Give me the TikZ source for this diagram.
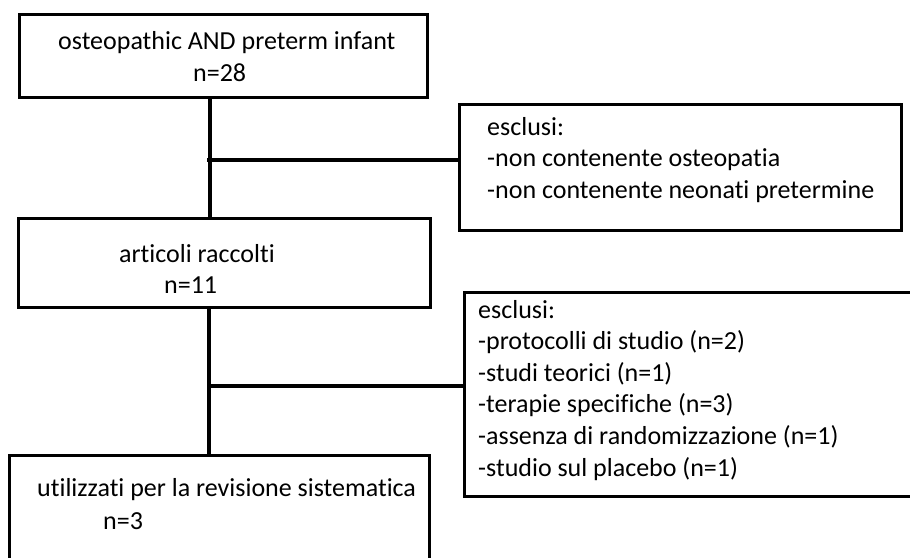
\documentclass[tikz,border=0pt]{standalone}
\usepackage{fontspec}
\setmainfont[Ligatures={NoCommon}]{Carlito}
\usetikzlibrary{positioning}
\tikzset{
  flowbox/.style={draw,line width=3.2pt,inner sep=0pt},
  flowtxt/.style={anchor=base west,inner sep=0pt,font=\fontsize{26}{31.6}\selectfont},
  flowlink/.style={line width=3.2pt},
}
\begin{document}
\begin{tikzpicture}[x=1pt,y=-1pt]
  \useasboundingbox (0,0) rectangle (910,557);
  \clip (0,0) rectangle (910,557);
  % ---- boxes ----
  \node[flowbox,minimum width=408,minimum height=83] (search) at (223.5,56) {};
  \node[flowbox,minimum width=442,minimum height=126] (excla) at (680.5,167.5) {};
  \node[flowbox,minimum width=412,minimum height=89] (kept) at (224.5,263) {};
  \node[flowbox,minimum width=495,minimum height=204] (exclb) at (712,394.5) {};
  \node[flowbox,minimum width=420,minimum height=160] (final) at (219.5,535.5) {};
  % ---- texts ----
  \node[flowtxt] (search1) at (58,49) {osteopathic AND preterm infant};
  \node[flowtxt] (search2) at (193,81) {n=28};
  \node[flowtxt] (kept1) at (119,262) {articoli raccolti};
  \node[flowtxt] (kept2) at (164,293) {n=11};
  \node[flowtxt] (final1) at (37,496) {utilizzati per la revisione sistematica};
  \node[flowtxt] (final2) at (103,529) {n=3};
  \foreach \i/\t in {0/esclusi:, 1/-non contenente osteopatia,
                     2/-non contenente neonati pretermine}{
    \node[flowtxt] (excla\i) at (487,{135+31.6*\i}) {\t};
  }
  \foreach \i/\t in {0/esclusi:, 1/-protocolli di studio (n=2), 2/-studi teorici (n=1),
                     3/-terapie specifiche (n=3), 4/-assenza di randomizzazione (n=1),
                     5/-studio sul placebo (n=1)}{
    \node[flowtxt] (exclb\i) at (478,{318+31.6*\i}) {\t};
  }
  % ---- connectors ----
  \coordinate (ja) at (210,160);
  \coordinate (jb) at (209,386);
  \draw[flowlink] (ja |- search.south) -- (ja |- kept.north);
  \draw[flowlink] ([xshift=-3pt]ja) -- (ja -| excla.west);
  \draw[flowlink] (jb |- kept.south) -- (jb |- final.north);
  \draw[flowlink] (jb) -- (jb -| exclb.west);
\end{tikzpicture}
\end{document}
